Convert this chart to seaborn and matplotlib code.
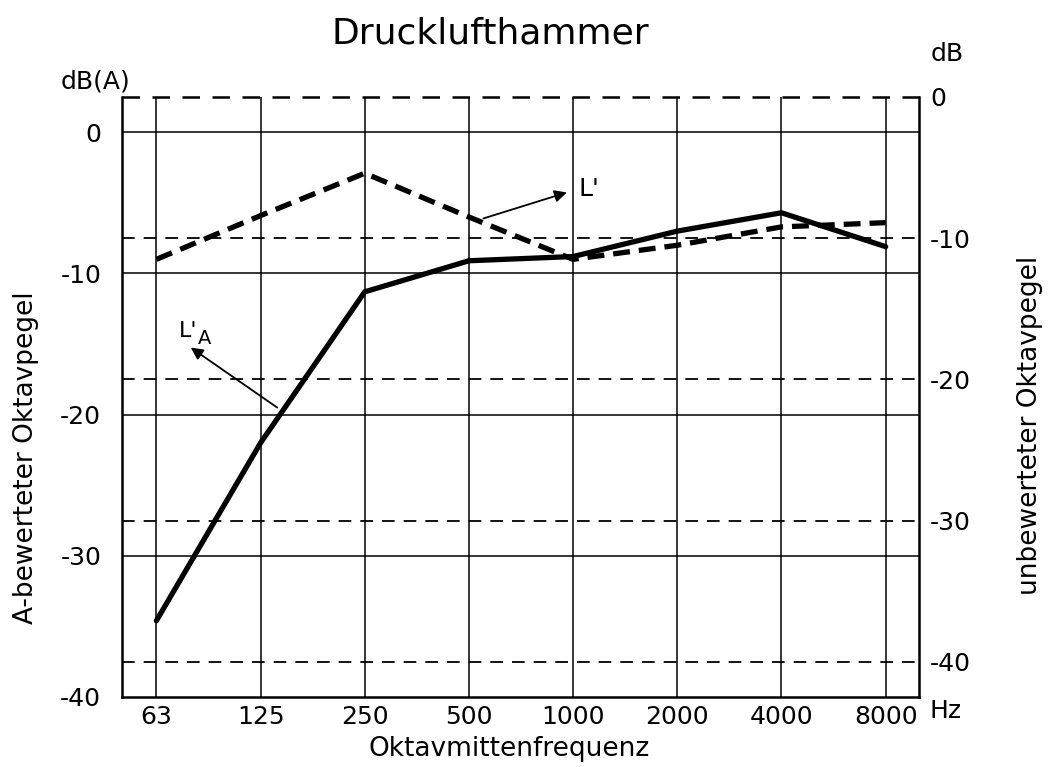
import numpy as np
import pandas as pd
import matplotlib
matplotlib.use("Agg")
import matplotlib.pyplot as plt
import seaborn as sns

# octave band centre frequencies (x categories)
freq_labels = ["63", "125", "250", "500", "1000", "2000", "4000", "8000"]
# L'A: A-weighted octave level in dB(A), read on the left axis
la_level = [-34.6, -22.0, -11.3, -9.1, -8.8, -7.0, -5.7, -8.1]
# L': unweighted octave level in dB, read on the right axis
l_level = [-11.5, -8.4, -5.4, -8.5, -11.5, -10.5, -9.2, -8.9]
left_ticks = [0, -10, -20, -30, -40]
right_ticks = [0, -10, -20, -30, -40]

W, H = 1054, 767


def fx(px):
    return px / W


def fy(py):
    return 1 - py / H


sns.set_style("white")
plt.rcParams["font.family"] = ["DejaVu Sans"]
plt.rcParams["text.color"] = "black"
plt.rcParams["xtick.color"] = "black"
plt.rcParams["ytick.color"] = "black"
plt.rcParams["axes.labelcolor"] = "black"

df = pd.DataFrame({"pos": np.arange(len(freq_labels)), "LA": la_level, "L": l_level})

fig = plt.figure(figsize=(W / 100, H / 100), dpi=100)
ax = fig.add_axes([fx(122), fy(697), fx(919) - fx(122), fy(97) - fy(697)])
ax2 = ax.twinx()
ax.set_xlim(-0.33, 7.32)
ax.set_ylim(-40, 2.5)
ax2.set_ylim(-42.5, 0)

# grid: solid verticals + solid dB(A) lines, dashed dB lines
for i in df["pos"]:
    ax.axvline(i, color="black", lw=1.1, zorder=1)
for v in left_ticks[:-1]:
    ax.axhline(v, color="black", lw=1.1, zorder=1)
for v in right_ticks:
    ax2.axhline(v, color="black", lw=1.8 if v == 0 else 1.3,
                ls=(0, (7, 5)), clip_on=False, zorder=1)

sns.lineplot(data=df, x="pos", y="LA", ax=ax, color="black", lw=3.8, zorder=5)
sns.lineplot(data=df, x="pos", y="L", ax=ax2, color="black", lw=3.8,
             linestyle=(0, (3.2, 1.7)), zorder=5)

for a in (ax, ax2):
    a.set_xlabel("")
    a.set_ylabel("")
    for s in a.spines.values():
        s.set_linewidth(1.8)
        s.set_color("black")
    a.spines["top"].set_visible(False)
ax.spines["right"].set_visible(False)
ax2.spines["left"].set_visible(False)
ax2.spines["bottom"].set_visible(False)

ax.set_xticks(df["pos"], freq_labels)
ax.set_yticks(left_ticks, [str(v) for v in left_ticks])
ax2.set_yticks(right_ticks, [str(v) for v in right_ticks])
ax.tick_params(axis="x", length=0, pad=6, labelsize=18)
ax.tick_params(axis="y", length=0, pad=15, labelsize=18)
ax2.tick_params(axis="y", length=0, pad=8, labelsize=18)

# curve labels with arrows
arrow = dict(arrowstyle="-|>", color="black", lw=1.3, mutation_scale=18,
             shrinkA=0, shrinkB=0)
ax.annotate("", xy=(3.94, -4.26), xytext=(3.14, -6.1), arrowprops=arrow, zorder=6)
ax.text(4.15, -4.0, "L'", fontsize=18, ha="center", va="center")
ax.annotate("", xy=(0.33, -15.25), xytext=(1.16, -19.5), arrowprops=arrow, zorder=6)
ax.text(0.22, -14.75, "L'", fontsize=16, ha="left", va="bottom")
ax.text(0.40, -15.3, "A", fontsize=14, ha="left", va="bottom")

fig.text(fx(490), fy(33), "Drucklufthammer", ha="center", va="center", fontsize=26)
fig.text(fx(95), fy(82), "dB(A)", ha="center", va="center", fontsize=18)
fig.text(fx(947), fy(54), "dB", ha="center", va="center", fontsize=18)
fig.text(fx(946), fy(711), "Hz", ha="center", va="center", fontsize=18)
fig.text(fx(509), fy(749), "Oktavmittenfrequenz", ha="center", va="center", fontsize=19)
fig.text(fx(26), fy(458), "A-bewerteter Oktavpegel", ha="center", va="center",
         rotation=90, fontsize=19)
fig.text(fx(1030), fy(425), "unbewerteter Oktavpegel", ha="center", va="center",
         rotation=90, fontsize=19)

fig.savefig("out.png", dpi=100)
